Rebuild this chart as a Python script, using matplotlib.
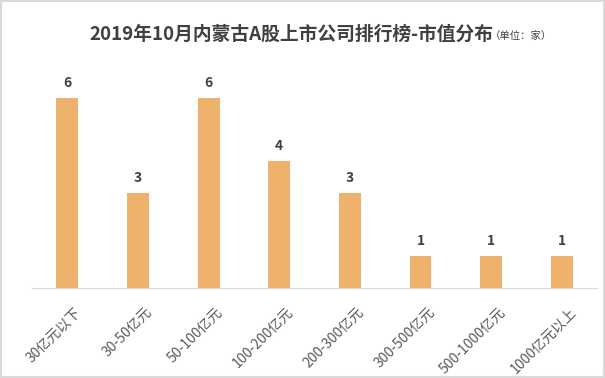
import matplotlib
matplotlib.use("Agg")
from matplotlib import pyplot as plt
from matplotlib.patches import Rectangle
from matplotlib.transforms import ScaledTranslation

plt.rcParams["font.family"] = ["Noto Sans CJK SC", "DejaVu Sans"]
plt.rcParams["axes.unicode_minus"] = False

# 市值区间与公司数量
categories = ["30亿元以下", "30-50亿元", "50-100亿元", "100-200亿元",
              "200-300亿元", "300-500亿元", "500-1000亿元", "1000亿元以上"]
counts = [6, 3, 6, 4, 3, 1, 1, 1]

title = "2019年10月内蒙古A股上市公司排行榜-市值分布"
unit = "（单位：家）"

fig = plt.figure(figsize=(6.05, 3.78), dpi=100)
ax = fig.add_axes([0.053, 0.238, 0.934, 0.587])

x = list(range(len(categories)))
bars = ax.bar(x, counts, width=0.31, color="#EFB26C", zorder=2)

for xi, v in zip(x, counts):
    ax.annotate(str(v), (xi, v), xytext=(0, 6), textcoords="offset points",
                ha="center", va="bottom", fontsize=10, fontweight="bold",
                color="#404040")

ax.set_xlim(-0.5, len(categories) - 0.5)
ax.set_ylim(0, 7)
ax.set_yticks([])
ax.set_xticks(x)
ax.set_xticklabels(categories, rotation=45, ha="right", rotation_mode="anchor",
                   fontsize=10, color="#595959")
ax.tick_params(axis="x", length=0, pad=12)
shift = ScaledTranslation(7 / 100, 0, fig.dpi_scale_trans)
for lbl in ax.get_xticklabels():
    lbl.set_transform(lbl.get_transform() + shift)
for side in ["top", "right", "left"]:
    ax.spines[side].set_visible(False)
ax.spines["bottom"].set_color("#d9d9d9")

fig.text(89 / 605, 1 - 34 / 378, title, ha="left", va="center",
         fontsize=13.5, fontweight="bold", color="#404040")
fig.text(490 / 605, 1 - 36 / 378, unit, ha="left", va="center",
         fontsize=7.5, color="#404040")

# 外框
fig.patches.append(Rectangle((0.002, 0.003), 0.996, 0.994, transform=fig.transFigure,
                             fill=False, edgecolor="#d9d9d9", linewidth=1.5))

fig.savefig("out.png", dpi=100)
